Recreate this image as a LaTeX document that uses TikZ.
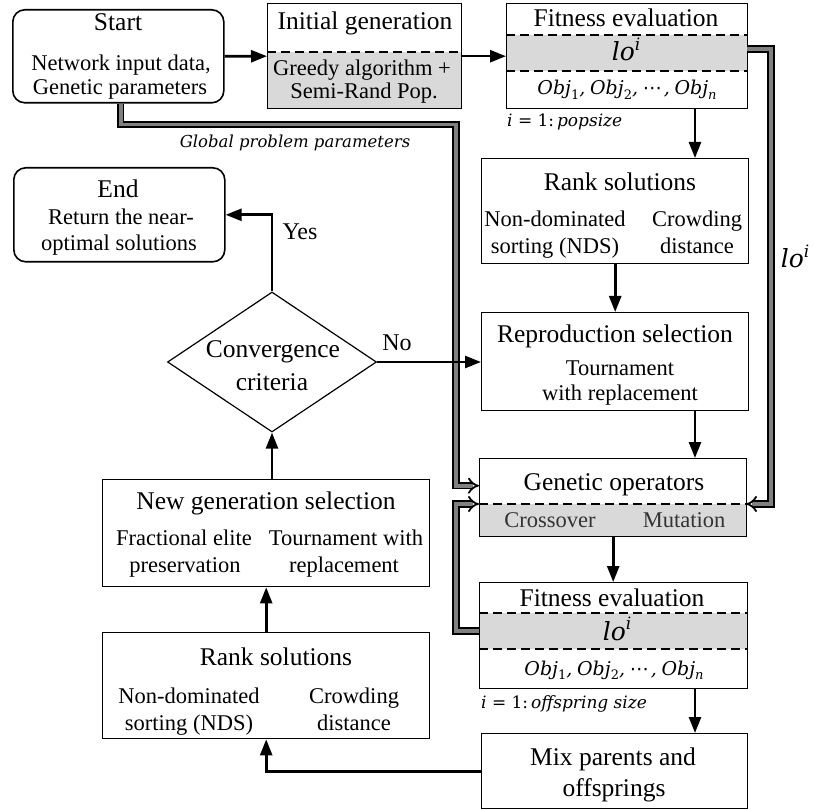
\documentclass[tikz,border=0pt]{standalone}
\usepackage{fontspec}
\setmainfont{Liberation Serif}
\newfontfamily\mfont{DejaVu Serif}
\newfontfamily\dotsfont{DejaVu Sans}
\usetikzlibrary{arrows.meta,shapes.geometric}

\definecolor{bandgray}{RGB}{217,217,217}
\definecolor{dblgray}{RGB}{128,128,128}

\newcommand{\titlefs}{\fontsize{25.5}{30}\selectfont}
\newcommand{\bodyfs}{\fontsize{22.5}{27}\selectfont}
\newcommand{\mathfs}[1]{\fontsize{#1}{#1}\selectfont\mfont\itshape}
% l o with superscript i
\newcommand{\losup}{lo\raisebox{0.42em}{\fontsize{17}{17}\selectfont i}}
% Obj with a subscript
\newcommand{\objsub}[1]{Obj\raisebox{-0.22em}{\fontsize{13}{13}\selectfont #1}}
\newcommand{\objlist}{\objsub{\upshape 1},\hspace{0.25em}\objsub{\upshape 2},\hspace{0.25em}{\dotsfont\upshape ⋯}\hspace{0.1em},\hspace{0.25em}\objsub{n}}

\begin{document}
\begin{tikzpicture}[x=1pt, y=-1pt,
  box/.style={draw, line width=1.4pt, rectangle, inner sep=0pt, anchor=north west},
  rbox/.style={box, rounded corners=12pt, line width=1.6pt},
  band/.style={fill=bandgray, rectangle, inner sep=0pt, outer sep=0pt, anchor=north west},
  dashln/.style={line width=1.6pt, dash pattern=on 9pt off 5pt},
  arr/.style={line width=2.6pt, -{Triangle[length=16pt,width=12pt]}},
  dbl/.style={draw=black, line width=1.8pt, double=dblgray, double distance=3.6pt, line join=miter, -{Implies[scale=1.35]}},
  tl/.style={anchor=base, inner sep=0pt},
  ttl/.style={tl, font=\titlefs},
  bdy/.style={tl, font=\bodyfs},
]
\useasboundingbox (0,0) rectangle (814,810);

% shaded bands inside the boxes
\node[band, minimum width=194pt, minimum height=56pt] (initband) at (267,52) {};
\node[band, minimum width=241pt, minimum height=36pt] (fit1band) at (506,35) {};
\node[band, minimum width=267pt, minimum height=32pt] (genband) at (479,504) {};
\node[band, minimum width=268pt, minimum height=36pt] (fit2band) at (479,613) {};

% boxes
\node[rbox, minimum width=211pt, minimum height=93pt] (start) at (12,9) {};
\node[box, minimum width=194pt, minimum height=105pt] (init) at (267,3) {};
\node[box, minimum width=241pt, minimum height=105pt] (fit1) at (506,3) {};
\node[box, minimum width=267pt, minimum height=105pt] (rank1) at (481,158) {};
\node[box, minimum width=267pt, minimum height=98pt] (repro) at (481,312) {};
\node[box, minimum width=267pt, minimum height=78pt] (gen) at (479,458) {};
\node[box, minimum width=268pt, minimum height=106pt] (fit2) at (479,582) {};
\node[box, minimum width=266pt, minimum height=75pt] (mix) at (481,733) {};
\node[box, minimum width=327pt, minimum height=106pt] (rank2) at (102,632) {};
\node[box, minimum width=327pt, minimum height=107pt] (newgen) at (102,479) {};
\node[rbox, minimum width=211pt, minimum height=94pt] (end) at (13,167) {};
\node[draw, diamond, line width=1.2pt, minimum width=209pt, minimum height=140pt, inner sep=0pt] (conv) at (272,362) {};

% dashed separators
\draw[dashln] (initband.north west) -- (initband.north east);
\draw[dashln] (fit1band.north west) -- (fit1band.north east);
\draw[dashln] (fit1band.south west) -- (fit1band.south east);
\draw[dashln] (genband.north west) -- (genband.north east);
\draw[dashln] (fit2band.north west) -- (fit2band.north east);
\draw[dashln] (fit2band.south west) -- (fit2band.south east);

% texts
\node[ttl] (tstart) at (118,31) {Start};
\node[bdy] (tstartb) at (121,71) {Network input data,};
\node[bdy] (tstartc) at (120,95) {Genetic parameters};

\node[ttl] (tinit) at (365,30) {Initial generation};
\node[bdy] (tinitb) at (362,76) {Greedy algorithm +};
\node[bdy] (tinitc) at (364,99) {Semi-Rand Pop.};

\node[ttl] (tfit1) at (626,27) {Fitness evaluation};
\node[tl, font=\mathfs{25}] (tfit1b) at (626,61) {\losup};
\node[tl, font=\mathfs{19}] (tfit1c) at (627,95) {\objlist};
\node[tl, anchor=base west, font=\mathfs{17}] (tpop) at (507,127) {i {\upshape = 1:}\,popsize};

\node[ttl] (trank1) at (620,191) {Rank solutions};
\node[bdy] (trank1b) at (555,227) {Non-dominated};
\node[bdy] (trank1c) at (555,254) {sorting (NDS)};
\node[bdy] (trank1d) at (697,227) {Crowding};
\node[bdy] (trank1e) at (697,254) {distance};

\node[ttl] (trepro) at (615,343) {Reproduction selection};
\node[bdy] (treprob) at (620,375) {Tournament};
\node[bdy] (treproc) at (620,400) {with replacement};

\node[ttl] (tgen) at (614,490) {Genetic operators};
\node[bdy, text=black!80] (tgenb) at (550,527) {Crossover};
\node[bdy, text=black!80] (tgenc) at (684,527) {Mutation};

\node[ttl] (tfit2) at (612,606) {Fitness evaluation};
\node[tl, font=\mathfs{25}] (tfit2b) at (617,640) {\losup};
\node[tl, font=\mathfs{19}] (tfit2c) at (614,675) {\objlist};
\node[tl, anchor=base west, font=\mathfs{17}] (toff) at (481,708) {i {\upshape = 1:}\,offspring size};

\node[ttl] (tmix) at (613,765) {Mix parents and};
\node[ttl] (tmixb) at (614,796) {offsprings};

\node[ttl] (trank2) at (276,665) {Rank solutions};
\node[bdy] (trank2b) at (189,703) {Non-dominated};
\node[bdy] (trank2c) at (189,730) {sorting (NDS)};
\node[bdy] (trank2d) at (354,703) {Crowding};
\node[bdy] (trank2e) at (354,730) {distance};

\node[ttl] (tnew) at (266,509) {New generation selection};
\node[bdy] (tnewb) at (184,545) {Fractional elite};
\node[bdy] (tnewc) at (185,572) {preservation};
\node[bdy] (tnewd) at (346,545) {Tournament with};
\node[bdy] (tnewe) at (344,572) {replacement};

\node[ttl] (tconv) at (273,357) {Convergence};
\node[ttl] (tconvb) at (272,390) {criteria};

\node[ttl] (tend) at (118,198) {End};
\node[bdy] (tendb) at (121,225) {Return the near-};
\node[bdy] (tendc) at (119,251) {optimal solutions};

\node[tl, font=\fontsize{24}{28}\selectfont] (tyes) at (300,240) {Yes};
\node[tl, font=\fontsize{24}{28}\selectfont] (tno) at (397,351) {No};
\node[tl, font=\mathfs{16.5}] (tglob) at (295,148) {Global problem parameters};
\node[tl, font=\mathfs{25}] (tlo) at (795,268) {\losup};

% column used by the off-centre arrows
\coordinate (colR) at (695,0);

% double (data) lines
\draw[dbl] ([xshift=2.5pt]start.south) -- ++(0,21) -| ([xshift=-23pt,yshift=12pt]gen.west) -- ([yshift=12pt]gen.west);
\draw[dbl] (fit2band.west) -- ++(-23,0) |- (genband.north west);
\draw[dbl] ([yshift=4pt]fit1band.east) -- ++(24,0) |- (genband.north east);

% flow arrows
\draw[arr] (start.east) -- (init.west);
\draw[arr] (init.east) -- (fit1.west);
\draw[arr] (fit1.south -| colR) -- (rank1.north -| colR);
\draw[arr] (rank1.south) -- (repro.north);
\draw[arr] (repro.south -| colR) -- (gen.north -| colR);
\draw[arr] (gen.south) -- (gen.south |- fit2.north);
\draw[arr] (fit2.south -| colR) -- (mix.north -| colR);
\draw[arr] (mix.west) -| (rank2.south);
\draw[arr] (rank2.north) -- (newgen.south);
\draw[arr] (newgen.north -| conv.south) -- (conv.south);
\draw[arr] (conv.north) |- (end.east);
\draw[arr] (conv.east) -- (conv.east -| repro.west);
\end{tikzpicture}
\end{document}
